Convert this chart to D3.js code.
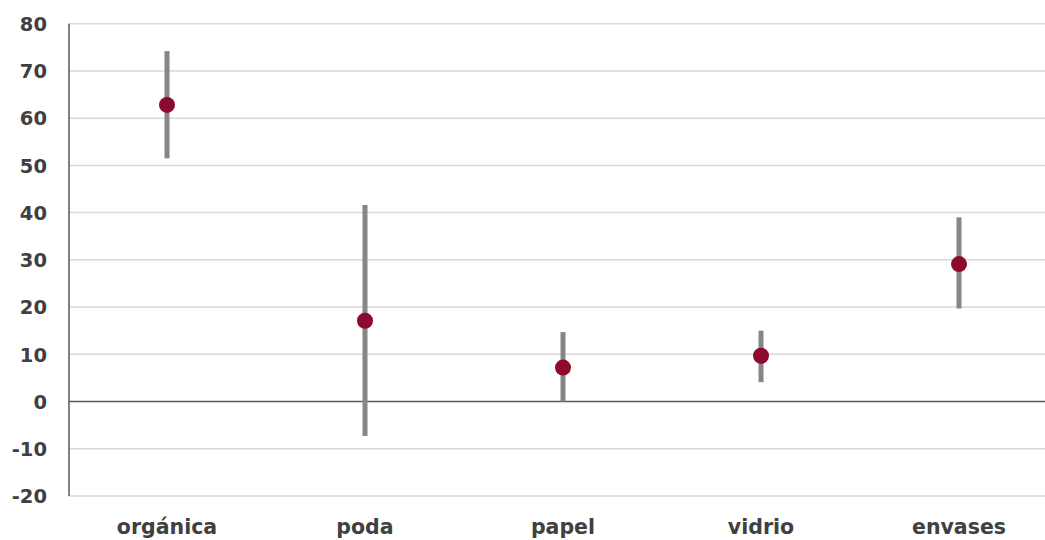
<!DOCTYPE html>
<html><head><meta charset="utf-8">
<script src="https://cdn.jsdelivr.net/npm/d3@7"></script>
<style>body{margin:0;background:#fff}svg{display:block}</style>
</head><body>
<svg id="c" width="1045" height="540"></svg>
<script>
const categories = ["orgánica","poda","papel","vidrio","envases"];
const values = [62.8, 17.1, 7.2, 9.7, 29.1];
const lows = [51.5, -7.3, 0, 4.1, 19.7];
const highs = [74.2, 41.6, 14.7, 15.0, 39.0];
const yTicks = [-20,-10,0,10,20,30,40,50,60,70,80];

const svg = d3.select("#c");
const W = 1045;
const x = d3.scaleBand().domain(categories).range([68, 1058]);
const y = d3.scaleLinear().domain([-20, 80]).range([496, 23.7]);
const font = "'DejaVu Sans', sans-serif";

// gridlines
svg.append("g").selectAll("line").data(yTicks.filter(t => t !== 0)).join("line")
  .attr("x1", 69).attr("x2", W)
  .attr("y1", d => y(d)).attr("y2", d => y(d))
  .attr("stroke", "#d9d9d9").attr("stroke-width", 1.5);

// y axis labels
const yAxis = d3.axisLeft(y).tickValues(yTicks).tickSize(0).tickPadding(0).tickFormat(d => String(d));
const ga = svg.append("g").attr("transform", "translate(47,0)").call(yAxis);
ga.select(".domain").remove();
ga.selectAll("text").attr("font-family", font).attr("font-weight", "bold")
  .attr("font-size", 19.5).attr("fill", "#404040").attr("dy", "0.35em");

// zero line
svg.append("line").attr("x1", 69).attr("x2", W).attr("y1", y(0)).attr("y2", y(0))
  .attr("stroke", "#595959").attr("stroke-width", 1.5);
// left axis line
svg.append("line").attr("x1", 69).attr("x2", 69).attr("y1", y(80)).attr("y2", y(-20))
  .attr("stroke", "#595959").attr("stroke-width", 1.5);

// x labels
const xAxis = d3.axisBottom(x).tickSize(0).tickPadding(0);
const gx = svg.append("g").attr("transform", "translate(0,518)").call(xAxis);
gx.select(".domain").remove();
gx.selectAll("text").attr("font-family", font).attr("font-weight", "bold")
  .attr("font-size", 20.5).attr("fill", "#404040").attr("dy", "0.8em");

// error bars
const data = categories.map((c, i) => ({c, v: values[i], lo: lows[i], hi: highs[i]}));
svg.append("g").selectAll("line").data(data).join("line")
  .attr("x1", d => x(d.c) + x.bandwidth()/2).attr("x2", d => x(d.c) + x.bandwidth()/2)
  .attr("y1", d => y(d.lo)).attr("y2", d => y(d.hi))
  .attr("stroke", "#868686").attr("stroke-width", 5);

// points
svg.append("g").selectAll("circle").data(data).join("circle")
  .attr("cx", d => x(d.c) + x.bandwidth()/2).attr("cy", d => y(d.v))
  .attr("r", 8).attr("fill", "#8b0a2e");
</script>
</body></html>
